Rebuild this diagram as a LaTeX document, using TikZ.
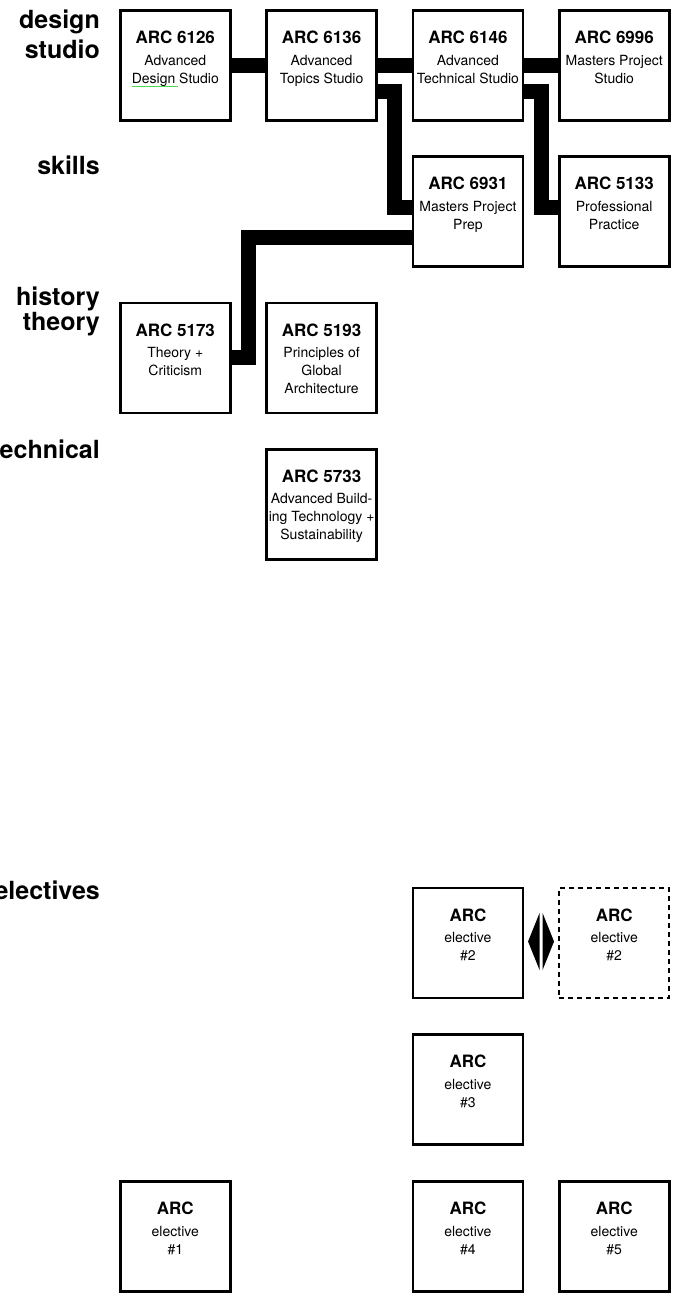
\documentclass[tikz,border=0pt]{standalone}
\usepackage{fontspec}
\setmainfont{TeX Gyre Heros}
\usetikzlibrary{calc,backgrounds}
\newcommand\stackc[1]{\begin{tabular}[t]{@{}c@{}}#1\end{tabular}}
\newcommand\stackr[1]{\begin{tabular}[t]{@{}r@{}}#1\end{tabular}}
\tikzset{
  course/.style={draw, line width=2.7pt, fill=white, minimum size=110pt, inner sep=0pt, outer sep=0pt},
  dashcourse/.style={course, line width=2pt, dash pattern=on 5pt off 4pt},
  ttl/.style={font=\bfseries\fontsize{17}{20}\selectfont, anchor=base, inner sep=0pt},
  sub/.style={font=\fontsize{14}{18}\selectfont, anchor=base, inner sep=0pt},
  rowlbl/.style={font=\bfseries\fontsize{25}{31}\selectfont, anchor=base east, inner sep=0pt},
  link/.style={line width=15pt, line join=miter, line cap=butt},
  gline/.style={draw=green!80!black!70!white, line width=1pt},
  tri/.style={fill=black},
}
\newcommand\mkcourse[5][course]{%
  \node[#1] (#2) at (#3) {};
  \node[ttl] (#2t) at ($(#2.center)+(0,-21.8)$) {#4};
  \node[sub] (#2s) at ($(#2.center)+(0,-0.3)$) {\stackc{#5}};
}
\begin{document}
\begin{tikzpicture}[x=1pt,y=-1pt]
\useasboundingbox (0,0) rectangle (677,1299);
\clip (0,0) rectangle (677,1299);

% row labels
\node[rowlbl, font=\bfseries\fontsize{25}{30}\selectfont] (Ldesign) at (100,28) {\stackr{design\\studio}};
\node[rowlbl] (Lskills) at (100,174) {skills};
\node[rowlbl, font=\bfseries\fontsize{25}{25}\selectfont] (Lhist) at (100,305) {\stackr{history\\theory}};
\node[rowlbl] (Ltech) at (100,458) {technical};
\node[rowlbl] (Lelec) at (100,899) {electives};

% courses
\mkcourse{c1}{175.3,65.3}{ARC 6126}{Advanced\\Design Studio}
\mkcourse{c2}{321.6,65.3}{ARC 6136}{Advanced\\Topics Studio}
\mkcourse{c3}{467.9,65.3}{ARC 6146}{Advanced\\Technical Studio}
\mkcourse{c4}{614.2,65.3}{ARC 6996}{Masters Project\\Studio}
\mkcourse{p1}{467.9,211.6}{ARC 6931}{Masters Project\\Prep}
\mkcourse{p2}{614.2,211.6}{ARC 5133}{Professional\\Practice}
\mkcourse{h1}{175.3,357.9}{ARC 5173}{Theory +\\Criticism}
\mkcourse{h2}{321.6,357.9}{ARC 5193}{Principles of\\Global\\Architecture}
\mkcourse{t1}{321.6,504.2}{ARC 5733}{Advanced Build-\\ing Technology +\\Sustainability}

% electives
\mkcourse{e2}{467.9,943.1}{ARC}{elective\\\#2}
\mkcourse[dashcourse]{e2d}{614.2,943.1}{ARC}{elective\\\#2}
\mkcourse{e3}{467.9,1089.4}{ARC}{elective\\\#3}
\mkcourse{e1}{175.3,1236.5}{ARC}{elective\\\#1}
\mkcourse{e4}{467.9,1236.5}{ARC}{elective\\\#4}
\mkcourse{e5}{614.2,1236.5}{ARC}{elective\\\#5}

% green underline under "Design"
\draw[gline] ($(c1.north west)+(11.7,75.7)$) -- ++(46,0);

% connectors
\begin{pgfonlayer}{background}
\draw[link] (c1.east) -- (c2.west);
\draw[link] (c2.east) -- (c3.west);
\draw[link] (c3.east) -- (c4.west);
\draw[link] ($(c2.east)+(0,26)$) -- ++(18,0) |- ($(p1.west)+(0,-4.6)$);
\draw[link] ($(c3.east)+(0,26)$) -- ++(18.5,0) |- ($(p2.west)+(0,-4.6)$);
\draw[link] ($(p1.west)+(0,26)$) -- ++(-164,0) |- (h1.east);
\end{pgfonlayer}

% double arrow between elective #2 boxes
\coordinate (dm) at ($(e2.east)!0.5!(e2d.west)+(0,-1.6)$);
\fill[tri] ($(dm)+(-13,0)$) -- ($(dm)+(-1.5,-28.5)$) -- ($(dm)+(-1.5,28.5)$) -- cycle;
\fill[tri] ($(dm)+(13,0)$) -- ($(dm)+(1.5,-28.5)$) -- ($(dm)+(1.5,28.5)$) -- cycle;
\end{tikzpicture}
\end{document}
